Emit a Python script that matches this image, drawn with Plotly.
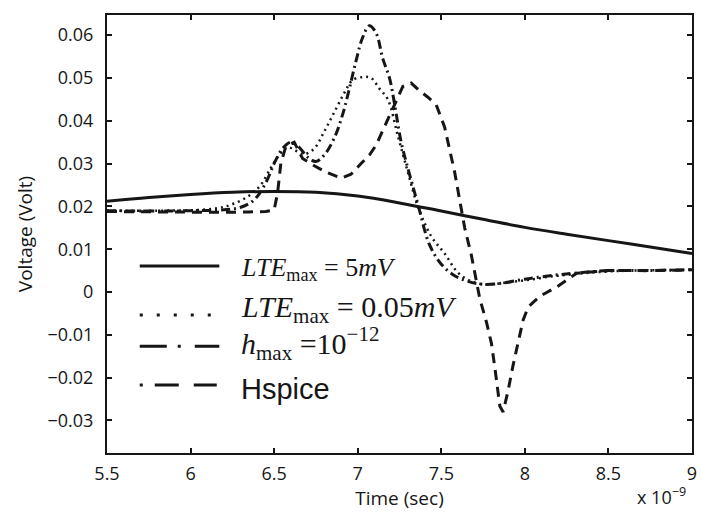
import plotly.graph_objects as go

# Time axis values are in units of 1e-9 s
t_lte5 = [5.5, 5.75, 6.0, 6.25, 6.5, 6.75, 7.0, 7.25, 7.5, 7.75, 8.0, 8.25, 8.5, 8.75, 9.0]
v_lte5 = [0.0212, 0.0221, 0.0228, 0.0233, 0.0235, 0.0233, 0.0224, 0.0208, 0.0189, 0.0170,
          0.0151, 0.0135, 0.0120, 0.0105, 0.0090]

t_lte005 = [5.5, 5.8, 6.0, 6.15, 6.25, 6.35, 6.42, 6.48, 6.53, 6.58, 6.63, 6.68, 6.74, 6.8,
            6.86, 6.92, 6.97, 7.03, 7.08, 7.13, 7.18, 7.24, 7.3, 7.36, 7.44, 7.52, 7.6, 7.68,
            7.75, 7.85, 7.95, 8.05, 8.15, 8.25, 8.35, 8.5, 8.65, 8.8, 9.0]
v_lte005 = [0.0190, 0.0190, 0.0191, 0.0195, 0.0205, 0.0225, 0.0250, 0.0290, 0.0320, 0.0338,
            0.0330, 0.0322, 0.0335, 0.0375, 0.0420, 0.0465, 0.0495, 0.0502, 0.0500, 0.0475,
            0.0450, 0.0365, 0.0280, 0.0200, 0.0130, 0.0090, 0.0045, 0.0025, 0.0018, 0.0020,
            0.0025, 0.0030, 0.0036, 0.0040, 0.0044, 0.0048, 0.0050, 0.0051, 0.0052]

t_hmax = [5.5, 5.8, 6.0, 6.2, 6.3, 6.38, 6.45, 6.5, 6.55, 6.6, 6.65, 6.7, 6.75, 6.8, 6.86,
          6.91, 6.95, 6.99, 7.03, 7.07, 7.11, 7.15, 7.19, 7.22, 7.26, 7.31, 7.36, 7.43, 7.5,
          7.58, 7.66, 7.75, 7.85, 8.0, 8.15, 8.3, 8.5, 8.75, 9.0]
v_hmax = [0.0190, 0.0189, 0.0190, 0.0192, 0.0198, 0.0215, 0.0255, 0.0300, 0.0335, 0.0350,
          0.0338, 0.0315, 0.0305, 0.0320, 0.0360, 0.0415, 0.0475, 0.0540, 0.0595, 0.0622,
          0.0605, 0.0545, 0.0500, 0.0440, 0.0350, 0.0275, 0.0205, 0.0110, 0.0065, 0.0038,
          0.0025, 0.0018, 0.0020, 0.0030, 0.0038, 0.0044, 0.0050, 0.0050, 0.0052]

t_hspice = [5.5, 5.8, 6.0, 6.2, 6.35, 6.45, 6.5, 6.52, 6.54, 6.57, 6.62, 6.67, 6.74, 6.81,
            6.9, 6.96, 7.02, 7.07, 7.11, 7.16, 7.21, 7.27, 7.32, 7.37, 7.42, 7.47, 7.52, 7.55,
            7.58, 7.61, 7.64, 7.68, 7.73, 7.77, 7.8, 7.82, 7.85, 7.87, 7.9, 7.93, 7.96, 7.99,
            8.02, 8.09, 8.2, 8.31, 8.5, 8.75, 9.0]
v_hspice = [0.0188, 0.0187, 0.0186, 0.0186, 0.0187, 0.0188, 0.0192, 0.0230, 0.0300, 0.0340,
            0.0350, 0.0312, 0.0295, 0.0280, 0.0266, 0.0275, 0.0300, 0.0320, 0.0343, 0.0385,
            0.0430, 0.0480, 0.0488, 0.0470, 0.0455, 0.0437, 0.0385, 0.0330, 0.0280, 0.0215,
            0.0150, 0.0086, -0.0015, -0.0070, -0.0120, -0.0175, -0.0266, -0.0280, -0.0230,
            -0.0170, -0.0115, -0.0065, -0.0035, -0.0010, 0.0014, 0.0044, 0.0050, 0.0050, 0.0052]

x_ticks = [5.5, 6.0, 6.5, 7.0, 7.5, 8.0, 8.5, 9.0]
x_labels = ["5.5", "6", "6.5", "7", "7.5", "8", "8.5", "9"]
y_ticks = [-0.03, -0.02, -0.01, 0.0, 0.01, 0.02, 0.03, 0.04, 0.05, 0.06]
y_labels = ["\u22120.03", "\u22120.02", "\u22120.01", "0", "0.01", "0.02", "0.03", "0.04",
            "0.05", "0.06"]

legend_labels = [
    "<i>LTE</i><sub>max</sub> = 5<i>mV</i>",
    "<i>LTE</i><sub>max</sub> = 0.05<i>mV</i>",
    "<i>h</i><sub>max</sub> =10<sup>\u221212</sup>",
    "Hspice",
]

INK = "#161616"
W = 3

fig = go.Figure()
fig.add_trace(go.Scatter(x=t_lte5, y=v_lte5, mode="lines", line=dict(color=INK, width=W),
                         line_shape="spline", showlegend=False))
fig.add_trace(go.Scatter(x=t_lte005, y=v_lte005, mode="lines",
                         line=dict(color=INK, width=2.5, dash="2px,4px"),
                         line_shape="spline", showlegend=False))
fig.add_trace(go.Scatter(x=t_hmax, y=v_hmax, mode="lines",
                         line=dict(color=INK, width=W, dash="9px,4px,2px,4px"),
                         line_shape="spline", showlegend=False))
fig.add_trace(go.Scatter(x=t_hspice, y=v_hspice, mode="lines",
                         line=dict(color=INK, width=W, dash="10px,7px"),
                         showlegend=False))

# hand-drawn key, placed inside the axes in paper coordinates
key_y = [0.427, 0.315, 0.244, 0.155]
key_dash = ["solid", "3px,14px", "27px,11px,3px,14px", "3px,12px,24px,15px,23px"]
key_fonts = [
    dict(family="Liberation Serif", size=26, color=INK),
    dict(family="Liberation Serif", size=30, color=INK),
    dict(family="Liberation Serif", size=30, color=INK),
    dict(family="Liberation Sans", size=29, color=INK),
]
text_dy = [-0.008, 0.014, 0.006, -0.008]
for ky, dash, label, fnt, dy in zip(key_y, key_dash, legend_labels, key_fonts, text_dy):
    fig.add_shape(type="line", xref="paper", yref="paper", x0=0.056, x1=0.192, y0=ky, y1=ky,
                  line=dict(color=INK, width=W, dash=dash))
    fig.add_annotation(xref="paper", yref="paper", x=0.226, y=ky + dy, text=label,
                       showarrow=False, xanchor="left", yanchor="middle", font=fnt)

fig.add_annotation(xref="paper", yref="paper", x=0.903, y=-0.098,
                   text="x 10<sup>\u22129</sup>", showarrow=False, xanchor="left",
                   yanchor="middle", font=dict(family="Open Sans", size=18, color=INK))

axis_common = dict(showline=True, linecolor=INK, linewidth=2, mirror="ticks",
                   ticks="inside", ticklen=5, tickwidth=1.5, tickcolor=INK,
                   showgrid=False, zeroline=False,
                   tickfont=dict(family="Open Sans", size=18, color=INK))

fig.update_xaxes(range=[5.5, 9.0], tickvals=x_ticks, ticktext=x_labels,
                 ticklabelstandoff=3,
                 title=dict(text="Time (sec)", standoff=2,
                            font=dict(family="Open Sans", size=19, color=INK)),
                 **axis_common)
fig.update_yaxes(range=[-0.0376, 0.0647], tickvals=y_ticks, ticktext=y_labels,
                 ticklabelstandoff=8,
                 title=dict(text="Voltage (Volt)", standoff=10,
                            font=dict(family="Open Sans", size=19, color=INK)),
                 **axis_common)

fig.update_layout(width=702, height=513, margin=dict(l=107, r=5, t=15, b=60),
                  paper_bgcolor="white", plot_bgcolor="white")

fig.write_html("out.html")
